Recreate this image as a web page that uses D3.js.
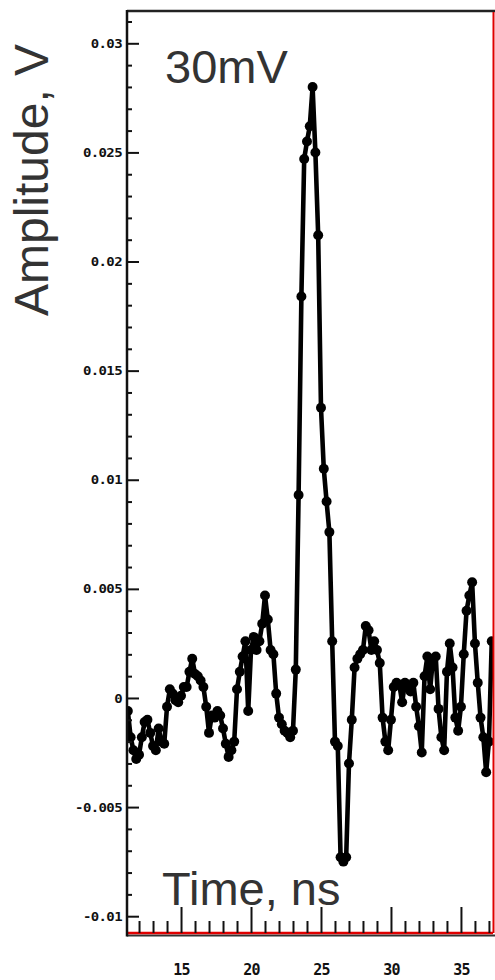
<!DOCTYPE html>
<html>
<head>
<meta charset="utf-8">
<script src="https://cdn.jsdelivr.net/npm/d3@7"></script>
<style>
  html, body { margin: 0; padding: 0; background: #fff; }
  svg { display: block; }
</style>
</head>
<body>
<svg id="chart" width="495" height="980"></svg>
<script>
// ---- data ----
const timeNs = [
  11.2, 11.4, 11.6, 11.8, 12.0, 12.2, 12.4, 12.6, 12.8, 13.0,
  13.2, 13.4, 13.6, 13.8, 14.0, 14.2, 14.4, 14.6, 14.8, 15.0,
  15.2, 15.4, 15.6, 15.8, 16.0, 16.2, 16.4, 16.6, 16.8, 17.0,
  17.2, 17.4, 17.6, 17.8, 18.0, 18.2, 18.4, 18.6, 18.8, 19.0,
  19.2, 19.4, 19.6, 19.8, 20.0, 20.2, 20.4, 20.6, 20.8, 21.0,
  21.2, 21.4, 21.6, 21.8, 22.0, 22.2, 22.4, 22.6, 22.8, 23.0,
  23.2, 23.4, 23.6, 23.8, 24.0, 24.2, 24.4, 24.6, 24.8, 25.0,
  25.2, 25.4, 25.6, 25.8, 26.0, 26.2, 26.4, 26.6, 26.8, 27.0,
  27.2, 27.4, 27.6, 27.8, 28.0, 28.2, 28.4, 28.6, 28.8, 29.0,
  29.2, 29.4, 29.6, 29.8, 30.0, 30.2, 30.4, 30.6, 30.8, 31.0,
  31.2, 31.4, 31.6, 31.8, 32.0, 32.2, 32.4, 32.6, 32.8, 33.0,
  33.2, 33.4, 33.6, 33.8, 34.0, 34.2, 34.4, 34.6, 34.8, 35.0,
  35.2, 35.4, 35.6, 35.8, 36.0, 36.2, 36.4, 36.6, 36.8, 37.0,
  37.2
];
const amplitudeV = [
  -0.0006, -0.0018, -0.0024, -0.0028, -0.0026, -0.0018, -0.0011, -0.0010, -0.0016, -0.0022,
  -0.0024, -0.0014, -0.0020, -0.0021, -0.0004, 0.0004, 0.0002, -0.0001, -0.0002, 0.0001,
  0.0005, 0.0005, 0.0012, 0.0018, 0.0011, 0.0010, 0.0008, 0.0005, -0.0004, -0.0016,
  -0.0008, -0.0009, -0.0006, -0.0008, -0.0014, -0.0021, -0.0027, -0.0024, -0.0020, 0.0004,
  0.0012, 0.0019, 0.0026, -0.0006, 0.0022, 0.0028, 0.0022, 0.0026, 0.0034, 0.0047,
  0.0036, 0.0022, 0.0020, 0.0002, -0.0009, -0.0012, -0.0015, -0.0016, -0.0018, -0.0015,
  0.0013, 0.0093, 0.0184, 0.0247, 0.0255, 0.0262, 0.0280, 0.0250, 0.0212, 0.0133,
  0.0105, 0.0090, 0.0076, 0.0026, -0.0020, -0.0022, -0.0073, -0.0075, -0.0073, -0.0030,
  -0.0010, 0.0014, 0.0018, 0.0020, 0.0022, 0.0033, 0.0031, 0.0022, 0.0026, 0.0022,
  0.0016, -0.0009, -0.0020, -0.0024, -0.0010, 0.0005, 0.0007, 0.0006, -0.0002, 0.0007,
  0.0005, 0.0003, 0.0007, -0.0004, -0.0013, -0.0025, 0.0010, 0.0019, 0.0004, 0.0018,
  0.0019, -0.0005, -0.0018, -0.0024, 0.0012, 0.0025, 0.0014, -0.0009, -0.0015, -0.0004,
  0.0020, 0.0040, 0.0047, 0.0053, 0.0025, 0.0007, -0.0009, -0.0018, -0.0034, -0.0020,
  0.0026
];
const yMajorTicks = [-0.01, -0.005, 0, 0.005, 0.01, 0.015, 0.02, 0.025, 0.03];
const yMajorLabels = ["-0.01", "-0.005", "0", "0.005", "0.01", "0.015", "0.02", "0.025", "0.03"];
const yMinorTicks = [-0.009, -0.008, -0.007, -0.006, -0.004, -0.003, -0.002, -0.001,
  0.001, 0.002, 0.003, 0.004, 0.006, 0.007, 0.008, 0.009, 0.011, 0.012, 0.013, 0.014,
  0.016, 0.017, 0.018, 0.019, 0.021, 0.022, 0.023, 0.024, 0.026, 0.027, 0.028, 0.029, 0.031];
const xMajorTicks = [15, 20, 25, 30, 35];
const xMajorLabels = ["15", "20", "25", "30", "35"];
const xMinorTicks = [12, 13, 14, 16, 17, 18, 19, 21, 22, 23, 24, 26, 27, 28, 29, 31, 32, 33, 34, 36, 37];
const annotation = "30mV";
const xTitle = "Time, ns";
const yTitle = "Amplitude, V";

// ---- layout ----
const L = 127, R = 493, T = 11, B = 933;
const svg = d3.select("#chart");
const x = d3.scaleLinear().domain([11.14, 37.29]).range([L, R]);
const y = d3.scaleLinear().domain([-0.01077, 0.03148]).range([B, T]);

svg.append("defs").append("clipPath").attr("id", "plotclip")
  .append("rect").attr("x", L).attr("y", T).attr("width", R - L).attr("height", B - T);

// ---- data ----
const pts = timeNs.map((t, i) => ({ t, v: amplitudeV[i] }));
const g = svg.append("g").attr("clip-path", "url(#plotclip)");
g.append("path").datum(pts)
  .attr("fill", "none").attr("stroke", "#000").attr("stroke-width", 4.6)
  .attr("stroke-linejoin", "round")
  .attr("d", d3.line().x(d => x(d.t)).y(d => y(d.v)));
g.selectAll("path.mk").data(pts).join("path").attr("class", "mk")
  .attr("transform", d => `translate(${x(d.t)},${y(d.v)})`)
  .attr("d", d3.symbol(d3.symbolCircle, 78))
  .attr("fill", "#000");

// ---- frame ----
svg.append("line").attr("x1", L).attr("x2", 495).attr("y1", T).attr("y2", T)
  .attr("stroke", "#222").attr("stroke-width", 2.5);
svg.append("line").attr("x1", L).attr("x2", 495).attr("y1", B + 2.5).attr("y2", B + 2.5)
  .attr("stroke", "#333").attr("stroke-width", 2);
svg.append("line").attr("x1", L).attr("x2", R).attr("y1", B).attr("y2", B)
  .attr("stroke", "#e00000").attr("stroke-width", 2.5);
svg.append("line").attr("x1", R + 0.5).attr("x2", R + 0.5).attr("y1", T + 1).attr("y2", B)
  .attr("stroke", "#e00000").attr("stroke-width", 2);
svg.append("line").attr("x1", L).attr("x2", L).attr("y1", T - 1).attr("y2", B + 3.5)
  .attr("stroke", "#111").attr("stroke-width", 2.5);

// ---- axes ----
const tickFont = "'DejaVu Sans Mono', monospace";
const yMaj = svg.append("g").attr("transform", `translate(${L},0)`)
  .call(d3.axisLeft(y).tickValues(yMajorTicks)
    .tickFormat((d, i) => yMajorLabels[i]).tickSizeInner(-12).tickSizeOuter(0).tickPadding(5));
yMaj.select(".domain").remove();
yMaj.selectAll("line").attr("stroke", "#111").attr("stroke-width", 2);
yMaj.selectAll("text").attr("font-family", tickFont).attr("font-weight", "bold")
  .attr("font-size", 14).attr("fill", "#111").attr("letter-spacing", "-0.6")
  .attr("transform", "scale(1,0.92)").attr("y", null)
  .attr("x", -5);

const yMin = svg.append("g").attr("transform", `translate(${L},0)`)
  .call(d3.axisLeft(y).tickValues(yMinorTicks).tickFormat("").tickSizeInner(-5).tickSizeOuter(0));
yMin.select(".domain").remove();
yMin.selectAll("line").attr("stroke", "#111").attr("stroke-width", 2);

const xMaj = svg.append("g").attr("transform", `translate(0,${B})`)
  .call(d3.axisBottom(x).tickValues(xMajorTicks)
    .tickFormat((d, i) => xMajorLabels[i]).tickSizeInner(-26).tickSizeOuter(0).tickPadding(31));
xMaj.select(".domain").remove();
xMaj.selectAll("line").attr("stroke", "#111").attr("stroke-width", 2);
xMaj.selectAll("text").attr("font-family", tickFont).attr("font-weight", "bold")
  .attr("font-size", 15).attr("fill", "#111").attr("letter-spacing", "-0.8");

const xMin = svg.append("g").attr("transform", `translate(0,${B})`)
  .call(d3.axisBottom(x).tickValues(xMinorTicks).tickFormat("").tickSizeInner(-12).tickSizeOuter(0));
xMin.select(".domain").remove();
xMin.selectAll("line").attr("stroke", "#111").attr("stroke-width", 2);

// ---- titles ----
const titleFont = "'Liberation Sans', Arial, Helvetica, sans-serif";
svg.append("text").attr("x", 165).attr("y", 83)
  .attr("font-family", titleFont).attr("font-size", 47).attr("fill", "#333").text(annotation);
svg.append("text").attr("x", 162).attr("y", 905)
  .attr("font-family", titleFont).attr("font-size", 47).attr("fill", "#333").text(xTitle);
svg.append("text").attr("transform", "translate(48,180) rotate(-90)")
  .attr("text-anchor", "middle")
  .attr("font-family", titleFont).attr("font-size", 48).attr("fill", "#333").text(yTitle);
</script>
</body>
</html>
